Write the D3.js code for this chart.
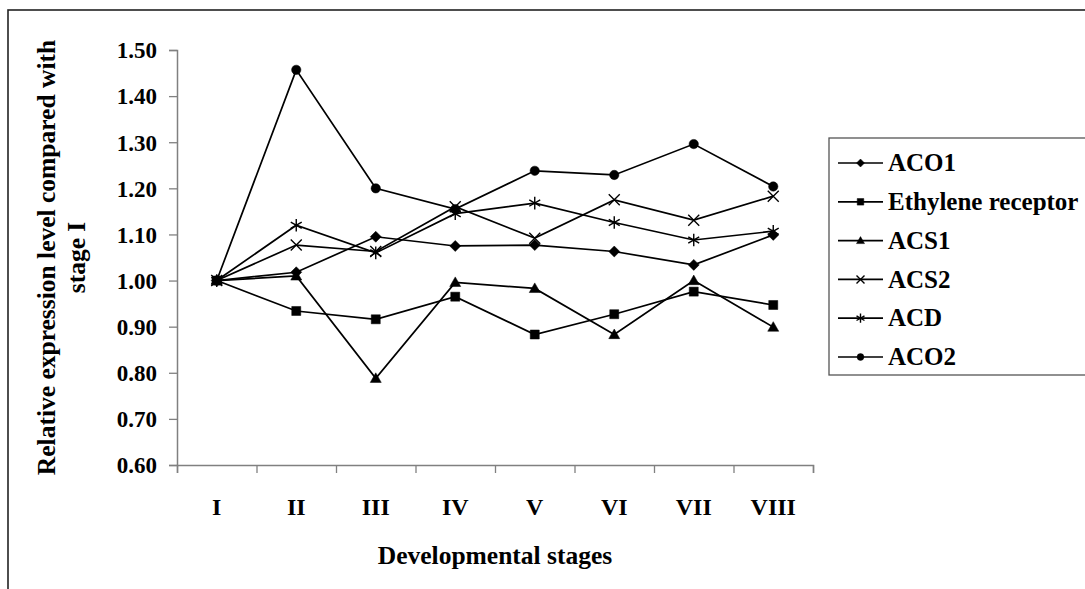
<!DOCTYPE html>
<html>
<head>
<meta charset="utf-8">
<script src="https://cdn.jsdelivr.net/npm/d3@7"></script>
<style>
  html, body { margin: 0; padding: 0; background: #fff; }
  svg { display: block; }
  text { font-family: "Liberation Serif", "Times New Roman", serif; font-weight: bold; fill: #000; }
</style>
</head>
<body>
<svg id="chart" width="1085" height="589"></svg>
<script>
// ---- data ----
const stages = ["I", "II", "III", "IV", "V", "VI", "VII", "VIII"];
const yTicks = [0.6, 0.7, 0.8, 0.9, 1.0, 1.1, 1.2, 1.3, 1.4, 1.5];
const seriesNames = ["ACO1", "Ethylene receptor", "ACS1", "ACS2", "ACD", "ACO2"];
const aco1     = [1.00, 1.018, 1.095, 1.075, 1.077, 1.063, 1.034, 1.099];
const ethylene = [1.00, 0.934, 0.916, 0.965, 0.883, 0.927, 0.976, 0.947];
const acs1     = [1.00, 1.010, 0.788, 0.996, 0.983, 0.883, 1.000, 0.899];
const acs2     = [1.00, 1.077, 1.063, 1.160, 1.092, 1.175, 1.131, 1.183];
const acd      = [1.00, 1.120, 1.060, 1.145, 1.168, 1.126, 1.088, 1.107];
const aco2     = [1.00, 1.457, 1.200, 1.155, 1.238, 1.229, 1.296, 1.204];
const xTitle = "Developmental stages";
const yTitleLines = ["Relative expression level compared with", "stage I"];

const seriesValues = [aco1, ethylene, acs1, acs2, acd, aco2];
const markerKinds = ["diamond", "square", "triangle", "times", "asterisk", "circle"];

// ---- layout ----
const svg = d3.select("#chart");
const plot = { left: 177, right: 813, top: 50, bottom: 465 };

const x = d3.scaleBand().domain(stages).range([plot.left, plot.right]).padding(0);
const xEdge = d3.scaleLinear().domain([0, stages.length]).range([plot.left, plot.right]);
const y = d3.scaleLinear().domain([0.6, 1.5]).range([plot.bottom, plot.top]);

// outer frame
svg.append("rect").attr("x", 8).attr("y", 10).attr("width", 1100).attr("height", 600)
  .attr("fill", "none").attr("stroke", "#222").attr("stroke-width", 1.6);

// custom symbol types
const diamondT = { draw(c, s) { const r = s; c.moveTo(0, -r); c.lineTo(r, 0); c.lineTo(0, r); c.lineTo(-r, 0); c.closePath(); } };
const squareT = { draw(c, s) { const r = s * 0.82; c.rect(-r, -r, 2 * r, 2 * r); } };
const triT = { draw(c, s) { const r = s; c.moveTo(0, -r); c.lineTo(r, r * 0.75); c.lineTo(-r, r * 0.75); c.closePath(); } };
const circT = { draw(c, s) { const r = s * 0.85; c.moveTo(r, 0); c.arc(0, 0, r, 0, 2 * Math.PI); } };
const timesT = { draw(c, s) { const r = s; c.moveTo(-r, -r); c.lineTo(r, r); c.moveTo(-r, r); c.lineTo(r, -r); } };
const astT = { draw(c, s) { const r = s * 1.15; const t = r * 0.5, u = r * Math.sqrt(3) / 2;
  c.moveTo(0, -r); c.lineTo(0, r); c.moveTo(-u, -t); c.lineTo(u, t); c.moveTo(-u, t); c.lineTo(u, -t); } };
const typeOf = { diamond: diamondT, square: squareT, triangle: triT, circle: circT, times: timesT, asterisk: astT };
const filled = k => !(k === "times" || k === "asterisk");

function drawMarker(g, kind, cx, cy, size) {
  const p = d3.symbol().type(typeOf[kind]).size(size)();
  g.append("path").attr("d", p).attr("transform", `translate(${cx},${cy})`)
    .attr("fill", filled(kind) ? "#000" : "none")
    .attr("stroke", "#000").attr("stroke-width", filled(kind) ? 0.5 : 1.4);
}

// axes
const yAxis = d3.axisLeft(y).tickValues(yTicks).tickFormat(d3.format(".2f")).tickSize(8).tickPadding(12);
const gy = svg.append("g").attr("transform", `translate(${plot.left},0)`).call(yAxis);
gy.selectAll("text").style("font-size", "23px").attr("dy", "0.34em");

const gxTicks = svg.append("g").attr("transform", `translate(0,${plot.bottom})`)
  .call(d3.axisBottom(xEdge).tickValues(d3.range(stages.length + 1)).tickFormat("").tickSize(8));
const gx = svg.append("g").attr("transform", `translate(0,${plot.bottom})`)
  .call(d3.axisBottom(x).tickSize(0).tickPadding(33));
gx.select(".domain").remove();
gx.selectAll("text").style("font-size", "24px").attr("dy", "0.71em");

[gy, gxTicks].forEach(g => {
  g.selectAll(".domain").attr("stroke", "#808080").attr("stroke-width", 1.5);
  g.selectAll(".tick line").attr("stroke", "#808080").attr("stroke-width", 1.3);
});

// axis titles
svg.append("text").attr("x", (plot.left + plot.right) / 2).attr("y", 564)
  .attr("text-anchor", "middle").style("font-size", "25.5px").text(xTitle);

const yt = svg.append("text").attr("transform", `translate(0,${(plot.top + plot.bottom) / 2}) rotate(-90)`)
  .attr("text-anchor", "middle").style("font-size", "25.5px");
yTitleLines.forEach((t, i) => yt.append("tspan").attr("x", 0).attr("y", 55 + i * 30).text(t));

// lines + markers
const line = d3.line().x((d, i) => x(stages[i]) + x.bandwidth() / 2).y(d => y(d));
const gLines = svg.append("g");
seriesValues.forEach((vals, si) => {
  gLines.append("path").attr("d", line(vals)).attr("fill", "none")
    .attr("stroke", "#000").attr("stroke-width", 1.7);
});
seriesValues.forEach((vals, si) => {
  vals.forEach((v, i) => drawMarker(gLines, markerKinds[si], x(stages[i]) + x.bandwidth() / 2, y(v), 5.5));
});

// legend
const leg = svg.append("g");
leg.append("rect").attr("x", 829).attr("y", 138).attr("width", 300).attr("height", 237)
  .attr("fill", "#fff").attr("stroke", "#555").attr("stroke-width", 1.3);
seriesNames.forEach((name, i) => {
  const cy = 163 + i * 38.8;
  leg.append("line").attr("x1", 838).attr("x2", 883).attr("y1", cy).attr("y2", cy)
    .attr("stroke", "#000").attr("stroke-width", 1.7);
  drawMarker(leg, markerKinds[i], 860.5, cy, 4);
  leg.append("text").attr("x", 888).attr("y", cy).attr("dy", "0.33em")
    .style("font-size", "25px").text(name);
});
</script>
</body>
</html>
